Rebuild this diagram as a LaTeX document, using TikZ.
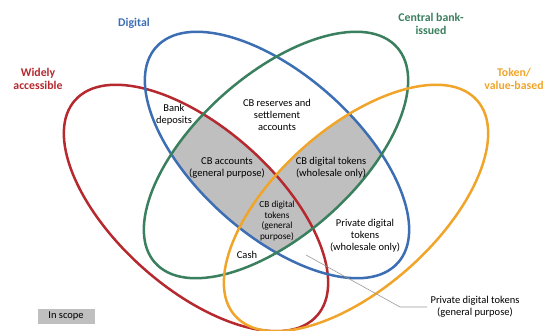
\documentclass[tikz,border=0pt]{standalone}
\usepackage{fontspec}
\setmainfont{Carlito}
\usetikzlibrary{positioning}

\definecolor{wideRed}{RGB}{181,41,47}
\definecolor{digiBlue}{RGB}{60,110,180}
\definecolor{cbGreen}{RGB}{58,127,94}
\definecolor{tokOrange}{RGB}{240,165,42}
\definecolor{scopeGray}{RGB}{191,191,191}

\begin{document}
\begin{tikzpicture}[
    x=1pt, y=-1pt,
    petal/.style={line width=2.5pt},
    wide/.style={shift={(196,208)}, rotate=-41.7},
    digi/.style={shift={(277,155)}, rotate=-41.7},
    cbis/.style={shift={(276,155)}, rotate=41.7},
    tokn/.style={shift={(356,208)}, rotate=41.7},
    head/.style={font=\bfseries\fontsize{11.8}{13.5}\selectfont, align=center},
    area/.style={font=\fontsize{10.5}{12}\selectfont, align=center},
    areasm/.style={font=\fontsize{9.3}{10.5}\selectfont, align=center},
    leader/.style={draw=black!40, line width=0.6pt}
]
\useasboundingbox (0,0) rectangle (546,331);

% shaded: digital and CB-issued, plus widely accessible or token-based
\begin{scope}
  \clip[digi] (0,0) ellipse [x radius=162, y radius=80];
  \clip[cbis] (0,0) ellipse [x radius=162, y radius=80];
  \fill[scopeGray, wide] (0,0) ellipse [x radius=162, y radius=80];
  \fill[scopeGray, tokn] (0,0) ellipse [x radius=162, y radius=80];
\end{scope}

% the four petals
\draw[petal, wideRed, wide] (0,0) ellipse [x radius=162, y radius=80];
\draw[petal, digiBlue, digi] (0,0) ellipse [x radius=162, y radius=80];
\draw[petal, cbGreen, cbis] (0,0) ellipse [x radius=162, y radius=80];
\draw[petal, tokOrange, tokn] (0,0) ellipse [x radius=162, y radius=80];

% petal titles
\node[head, text=digiBlue] (digital) at (134,23) {Digital};
\node[head, text=cbGreen] (cbissued) at (431,24) {Central bank-\\issued};
\node[head, text=tokOrange] (token) at (514,79) {Token/\\value-based};
\node[head, text=wideRed] (widely) at (38,79) {Widely\\accessible};

% regions
\node[area] (bankdep) at (174,115) {Bank\\deposits};
\node[area] (reserves) at (277,115) {CB reserves and\\settlement\\accounts};
\node[area] (cbacc) at (227,168) {CB accounts\\(general purpose)};
\node[area] (cbdtw) at (331,168) {CB digital tokens\\(wholesale only)};
\node[areasm] (cbdtg) at (277,221) {CB digital\\tokens\\(general\\purpose)};
\node[area] (cash) at (247,255) {Cash};
\node[area] (pdtw) at (365,236) {Private digital\\tokens\\(wholesale only)};
\node[area] (pdtg) at (475,307) {Private digital tokens\\(general purpose)};

\coordinate (pdtgspot) at (306,255);
\draw[leader] (pdtgspot) -- (400,307) -- (pdtg.west);

% legend
\node[area, fill=scopeGray, minimum width=57, minimum height=15, inner sep=0pt] (inscope) at (66,316) {In scope};

\end{tikzpicture}
\end{document}
